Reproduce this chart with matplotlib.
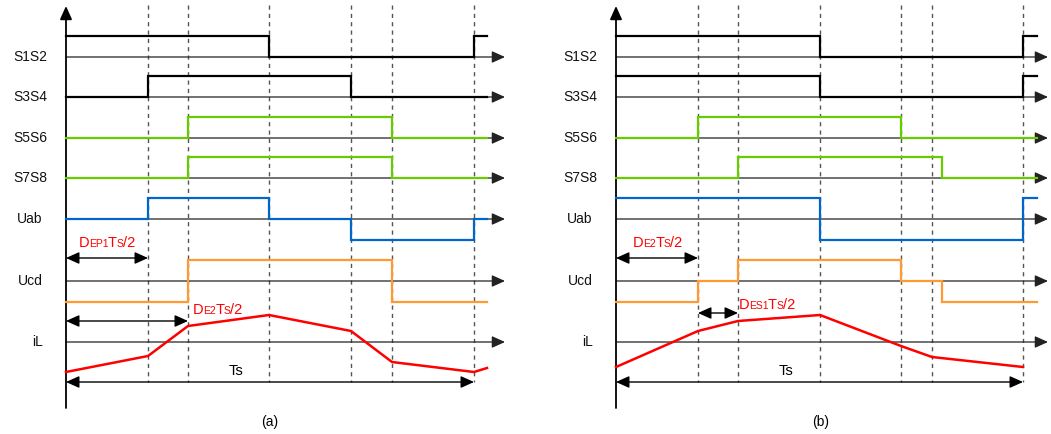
import matplotlib
matplotlib.use("Agg")
import matplotlib.pyplot as plt

plt.rcParams["font.family"] = ["Liberation Sans", "DejaVu Sans"]

# ---- data (time in px from the vertical axis, levels: 1 high, 0 zero, -1 low) ----
row_names = ["S1S2", "S3S4", "S5S6", "S7S8", "Uab", "Ucd", "iL"]
row_base = [57, 97, 138, 178, 219, 281, 342]

# panel (a)
a_s1s2_t, a_s1s2_v = [0, 203, 408, 421], [1, 0, 1]
a_s3s4_t, a_s3s4_v = [0, 82, 285, 421], [0, 1, 0]
a_s5s6_t, a_s5s6_v = [0, 122, 326, 421], [0, 1, 0]
a_s7s8_t, a_s7s8_v = [0, 122, 326, 421], [0, 1, 0]
a_uab_t, a_uab_v = [0, 82, 203, 285, 408, 421], [0, 1, 0, -1, 0]
a_ucd_t, a_ucd_v = [0, 122, 326, 421], [-1, 1, -1]
a_il_t = [0, 82, 122, 203, 285, 326, 408, 421]
a_il_v = [-30, -14, 16, 27, 11, -20, -30, -26]
a_marks = [82, 122, 203, 285, 326, 408]

# panel (b)
b_s1s2_t, b_s1s2_v = [0, 204, 407, 421], [1, 0, 1]
b_s3s4_t, b_s3s4_v = [0, 204, 407, 421], [1, 0, 1]
b_s5s6_t, b_s5s6_v = [0, 82, 285, 421], [0, 1, 0]
b_s7s8_t, b_s7s8_v = [0, 122, 326, 421], [0, 1, 0]
b_uab_t, b_uab_v = [0, 204, 407, 421], [1, -1, 1]
b_ucd_t, b_ucd_v = [0, 82, 122, 285, 326, 421], [-1, 0, 1, 0, -1]
b_il_t = [0, 82, 122, 204, 285, 316, 407]
b_il_v = [-25, 11, 21, 27, -4, -15, -25]
b_marks = [82, 122, 204, 285, 316, 407]

GREEN = "#66cc00"
BLUE = "#0066cc"
ORANGE = "#ff9933"
RED = "#ff0000"
AMP = 21

fig = plt.figure(figsize=(10.51, 4.34), dpi=100)
ax = fig.add_axes([0, 0, 1, 1])
ax.set_xlim(0, 1051)
ax.set_ylim(434, 0)
ax.axis("off")
renderer = fig.canvas.get_renderer()

def arrow(x1, y1, x2, y2, style="-|>", color="black", lw=1.0, z=3):
    ax.annotate("", xy=(x2, y2), xytext=(x1, y1), zorder=z,
                arrowprops=dict(arrowstyle=style + ",head_length=0.4,head_width=0.18",
                                color=color, lw=lw, mutation_scale=20,
                                shrinkA=0, shrinkB=0))

def step(x0, t, v, base, color):
    xs, ys = [], []
    for i, lv in enumerate(v):
        xs += [x0 + t[i], x0 + t[i + 1]]
        ys += [base - lv * AMP] * 2
    ax.plot(xs, ys, color=color, lw=1.6, solid_joinstyle="miter", zorder=4)

def rich(x, y, parts, color=RED):
    # small-caps style label: pieces placed one after the other
    for s, fs in parts:
        txt = ax.text(x, y, s, fontsize=fs, color=color, ha="left",
                      va="baseline")
        bb = txt.get_window_extent(renderer)
        x = ax.transData.inverted().transform((bb.x1, bb.y0))[0] - 0.6

def panel(x0, arrow_end, marks, waves, il_t, il_v, tag):
    # vertical axis
    arrow(x0, 408, x0, 6, color="black", lw=1.3)
    # dashed markers
    for m in marks:
        ax.plot([x0 + m, x0 + m], [5, 382], color="#555555", lw=1,
                ls=(0, (3, 3)), zorder=1)
    # baselines and labels
    for name, base in zip(row_names, row_base):
        arrow(x0, base, x0 + arrow_end, base, color="#222222", lw=0.9, z=2)
        lx = x0 - 36 if name != "iL" else x0 - 28
        ax.text(lx, base, name, fontsize=10, ha="center", va="center",
                color="#111111")
    for (t, v, color), base in zip(waves, row_base[:6]):
        step(x0, t, v, base, color)
    ax.plot([x0 + t for t in il_t], [row_base[6] - v for v in il_v],
            color=RED, lw=1.8, zorder=4)
    # period arrow
    arrow(x0, 382, x0 + marks[-1], 382, style="<|-|>", lw=1.0)
    ax.text(x0 + marks[1] + 48, 375, "Ts", fontsize=10.5, ha="center",
            va="baseline")
    ax.text(x0 + marks[2] + 1, 422, tag, fontsize=10, ha="center", va="center")

panel(66, 439, a_marks,
      [(a_s1s2_t, a_s1s2_v, "black"), (a_s3s4_t, a_s3s4_v, "black"),
       (a_s5s6_t, a_s5s6_v, GREEN), (a_s7s8_t, a_s7s8_v, GREEN),
       (a_uab_t, a_uab_v, BLUE), (a_ucd_t, a_ucd_v, ORANGE)],
      a_il_t, a_il_v, "(a)")
panel(616, 432, b_marks,
      [(b_s1s2_t, b_s1s2_v, "black"), (b_s3s4_t, b_s3s4_v, "black"),
       (b_s5s6_t, b_s5s6_v, GREEN), (b_s7s8_t, b_s7s8_v, GREEN),
       (b_uab_t, b_uab_v, BLUE), (b_ucd_t, b_ucd_v, ORANGE)],
      b_il_t, b_il_v, "(b)")

# duty annotations
arrow(66, 258, 66 + a_marks[0], 258, style="<|-|>")
rich(79, 247, [("D", 10.5), ("EP1", 7.5), ("T", 10.5), ("S", 7.5), ("/2", 10.5)])
arrow(66, 321, 66 + a_marks[1], 321, style="<|-|>")
rich(193, 314, [("D", 10.5), ("E2", 7.5), ("T", 10.5), ("S", 7.5), ("/2", 10.5)])

arrow(616, 258, 616 + b_marks[0], 258, style="<|-|>")
rich(633, 247, [("D", 10.5), ("E2", 7.5), ("T", 10.5), ("S", 7.5), ("/2", 10.5)])
arrow(616 + b_marks[0], 313, 616 + b_marks[1], 313, style="<|-|>")
rich(739, 309, [("D", 10.5), ("ES1", 7.5), ("T", 10.5), ("S", 7.5), ("/2", 10.5)])

fig.savefig("out.png", dpi=100, facecolor="white")
